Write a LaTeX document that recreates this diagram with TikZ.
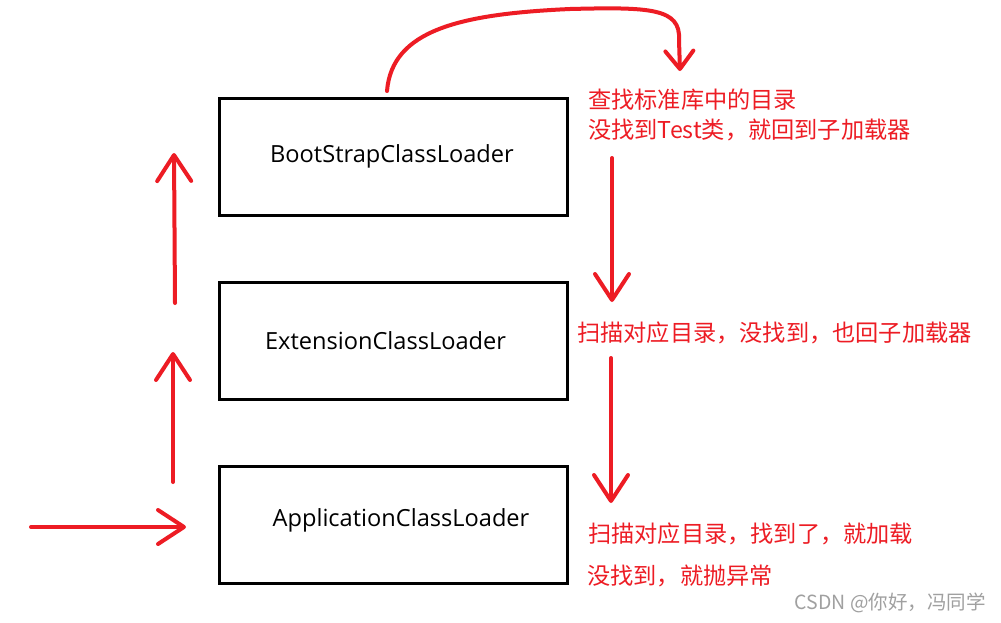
\documentclass[tikz,border=0pt]{standalone}
\usepackage{fontspec}
\setmainfont{Open Sans}
\newfontfamily\cjk{Noto Sans CJK SC}
\usetikzlibrary{arrows.meta}
\definecolor{pred}{HTML}{ED1C24}
\definecolor{wmgray}{HTML}{A0A0A0}
\begin{document}
\begin{tikzpicture}[x=1pt,y=-1pt,
  box/.style={draw=black,line width=3pt,minimum width=348pt,minimum height=117pt,inner sep=0pt},
  boxtext/.style={font=\fontsize{23.6}{26}\selectfont,inner sep=0pt},
  note/.style={font=\cjk\fontsize{23.2}{26}\selectfont,text=pred,inner sep=0pt,anchor=west},
  redarrow/.style={draw=pred,line width=4pt,line cap=round,line join=round,
    -{Straight Barb[length=26pt,width=34pt,line cap=round,line join=round]}},
  smallhead/.style={draw=pred,line width=4pt,line cap=round,line join=round,
    -{Straight Barb[length=18pt,width=28pt,line cap=round,line join=round]}}]
\useasboundingbox[fill=white] (0,0) rectangle (1001,622);
% boxes
\node[box] (b1) at (393,156.5) {};
\node[box] (b2) at (393,340.5) {};
\node[box] (b3) at (393,524.5) {};
\node[boxtext] (t1) at (392,156) {BootStrapClassLoader};
\node[boxtext] (t2) at (385.5,341) {ExtensionClassLoader};
\node[boxtext] (t3) at (401,520) {ApplicationClassLoader};
% notes
\node[note] (n1) at (588,100) {查找标准库中的目录};
\node[note] (n2) at (588,130) {没找到Test类，就回到子加载器};
\node[note] (n3) at (577,333) {扫描对应目录，没找到，也回子加载器};
\node[note] (n4) at (588,534) {扫描对应目录，找到了，就加载};
\node[note] (n5) at (587,576) {没找到，就抛异常};
\node[font=\cjk\fontsize{19.5}{22}\selectfont,text=wmgray,inner sep=0pt,anchor=east] (wm) at (986,603) {CSDN @你好，冯同学};
% coordinates
\coordinate (u1s) at (175,303);
\coordinate (u1e) at (174,153);
\coordinate (u2s) at (173,482);
\coordinate (u2e) at (173,352);
\coordinate (hs) at (31,527);
\coordinate (he) at (186,527);
\coordinate (d1s) at (612,158);
\coordinate (d1e) at (612,302);
\coordinate (d2s) at (611,358);
\coordinate (d2e) at (611,503);
\coordinate (cs) at (387,91);
\coordinate (ce) at (680,71);
% arrows
\draw[redarrow] (u1s) -- (u1e);
\draw[redarrow] (u2s) -- (u2e);
\draw[redarrow] (hs) -- (he);
\draw[redarrow] (d1s) -- (d1e);
\draw[redarrow] (d2s) -- (d2e);
\draw[smallhead] (cs) .. controls (392,30) and (460,14) .. (570,9)
  .. controls (650,7) and (681,8) .. (679,40) -- (ce);
\end{tikzpicture}
\end{document}
